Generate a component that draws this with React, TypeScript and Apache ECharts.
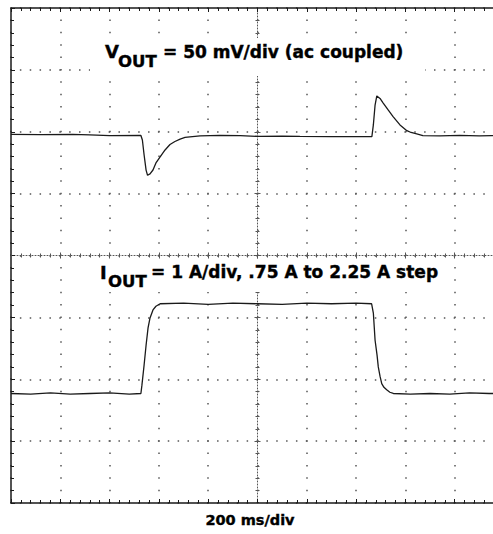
import React, { useEffect, useRef } from "react";
import * as echarts from "echarts";

// time axis (ms), 200 ms/div, 10 divisions
const timeMin = 0;
const timeMax = 2000;
const timeStep = 200;

// VOUT trace (ac coupled), mV, 50 mV/div
const voutTime = [0, 120, 250, 320, 400, 527, 533, 540, 548, 554, 564, 576, 588, 605, 625, 645, 665, 686, 706, 726, 767, 848, 930, 1010, 1100, 1172, 1300, 1400, 1464, 1470, 1477, 1484, 1497, 1510, 1530, 1550, 1578, 1606, 1623, 1646, 1671, 1740, 1820, 1900, 2000];
const voutMv = [-2.2, -2.4, -2.2, -2.6, -3.2, -3.0, -6.7, -18.8, -31, -35.2, -34, -30.9, -25.2, -20.4, -14.7, -10.3, -7.9, -5.9, -4.6, -4.1, -3.4, -3.0, -3.2, -3.8, -3.6, -3.8, -4.0, -3.9, -4.0, 5.5, 21.6, 28.9, 26.9, 23.2, 17.6, 12.2, 5.5, 0.85, -0.6, -1.8, -3.2, -3.4, -3.0, -3.3, -3.0];

// IOUT trace, A, 1 A/div, .75 A to 2.25 A step
const ioutTime = [0, 80, 160, 240, 320, 400, 480, 527, 531, 540, 548, 556, 564, 576, 588, 605, 700, 800, 900, 1000, 1100, 1200, 1300, 1400, 1463, 1470, 1477, 1485, 1490, 1497, 1504, 1513, 1524, 1537, 1551, 1620, 1700, 1780, 1860, 1940, 2000];
const ioutA = [0.77, 0.76, 0.78, 0.76, 0.77, 0.78, 0.76, 0.77, 0.9, 1.23, 1.55, 1.83, 1.99, 2.12, 2.18, 2.22, 2.23, 2.21, 2.23, 2.22, 2.21, 2.23, 2.22, 2.23, 2.22, 2.07, 1.63, 1.39, 1.2, 1.05, 0.93, 0.87, 0.83, 0.79, 0.77, 0.76, 0.77, 0.76, 0.78, 0.77, 0.77];

// vertical scales: 8 divisions each
const voutMin = -300, voutMax = 100, voutStep = 50;
const ioutMin = -1, ioutMax = 7, ioutStep = 1;

const voutTitleMain = "V";
const voutTitleSub = "OUT";
const voutTitleRest = "= 50 mV/div (ac coupled)";
const ioutTitleMain = "I";
const ioutTitleSub = "OUT";
const ioutTitleRest = "= 1 A/div, .75 A to 2.25 A step";
const xTitle = "200 ms/div";

const FONT = "DejaVu Sans";
const INK = "#1a1a1a";
const DOT = "#555";

export default function App() {
  const ref = useRef<HTMLDivElement>(null);
  useEffect(() => {
    if (!ref.current) return;
    const chart = echarts.init(ref.current, null, { renderer: "svg" });
    const gridL = 11, gridT = 8, gridW = 493, gridH = 495;
    const midX = gridW / 2;
    const midY = gridH / 2;
    const hidden = { show: false };
    const borderLine = { show: true, onZero: false, lineStyle: { color: INK, width: 1.5 } };
    const centerLine = { show: true, onZero: false, lineStyle: { color: DOT, width: 1, type: [1, 2] as any } };
    const noLine = { show: false, onZero: false };
    const xBase = { type: "value", min: timeMin, max: timeMax, interval: timeStep, axisLabel: hidden, splitLine: hidden };
    const yDiv = { type: "value", min: -4, max: 4, interval: 1, axisLabel: hidden, splitLine: hidden };
    const ticks = (inside: boolean, len: number, color = INK) => ({
      axisTick: { show: true, inside, length: len + 1, lineStyle: { color, width: 1 } },
      minorTick: { show: true, splitNumber: 5, length: len, lineStyle: { color, width: 1 } },
    });
    const txt = (text: string, x: number, y: number, size: number, align = "left") => ({
      type: "text",
      z: 60,
      x,
      y,
      style: {
        text,
        font: `bold ${size}px "${FONT}"`,
        fill: "#000",
        stroke: "#000",
        lineWidth: 0.4,
        align,
        verticalAlign: "middle",
      },
    });
    const option: any = {
      animation: false,
      backgroundColor: "#fff",
      grid: { left: gridL, top: gridT, width: gridW, height: gridH, containLabel: false },
      xAxis: [
        {
          ...xBase,
          position: "bottom",
          axisLine: borderLine,
          ...ticks(true, 3),
          splitLine: { show: true, lineStyle: { color: DOT, width: 1.5, type: [1.5, gridH / 40 - 1.5], dashOffset: 0.75 } },
        },
        { ...xBase, position: "top", axisLine: borderLine, ...ticks(true, 3) },
        { ...xBase, position: "bottom", offset: -midY, axisLine: centerLine, ...ticks(true, 2, DOT) },
        { ...xBase, position: "bottom", offset: -midY, axisLine: noLine, ...ticks(false, 2, DOT) },
      ],
      yAxis: [
        {
          type: "value",
          min: voutMin,
          max: voutMax,
          interval: voutStep,
          position: "left",
          axisLabel: hidden,
          axisLine: borderLine,
          ...ticks(true, 3),
          splitLine: { show: true, lineStyle: { color: DOT, width: 1.5, type: [1.5, gridW / 50 - 1.5], dashOffset: 0.75 } },
        },
        { type: "value", min: ioutMin, max: ioutMax, interval: ioutStep, show: false },
        { ...yDiv, position: "left", offset: -midX, axisLine: centerLine, ...ticks(true, 2, DOT) },
        { ...yDiv, position: "left", offset: -midX, axisLine: noLine, ...ticks(false, 2, DOT) },
      ],
      series: [
        {
          type: "line",
          name: "VOUT",
          xAxisIndex: 0,
          yAxisIndex: 0,
          data: voutTime.map((t, i) => [t, voutMv[i]]),
          showSymbol: false,
          lineStyle: { color: INK, width: 1.3 },
          z: 5,
        },
        {
          type: "line",
          name: "IOUT",
          xAxisIndex: 0,
          yAxisIndex: 1,
          data: ioutTime.map((t, i) => [t, ioutA[i]]),
          showSymbol: false,
          lineStyle: { color: INK, width: 1.3 },
          z: 5,
        },
      ],
      graphic: [
        { type: "rect", z: 50, shape: { x: 90, y: 38, width: 335, height: 38 }, style: { fill: "#fff" } },
        { type: "rect", z: 50, shape: { x: 88, y: 259, width: 358, height: 33 }, style: { fill: "#fff" } },
        txt(voutTitleMain, 105, 51, 18),
        txt(voutTitleSub, 118, 61, 16.5),
        txt(voutTitleRest, 163, 52, 17),
        txt(ioutTitleMain, 100, 272, 18),
        txt(ioutTitleSub, 108, 281, 16.5),
        txt(ioutTitleRest, 151, 272, 17),
        txt(xTitle, 250, 520, 14.5, "center"),
      ],
    };
    chart.setOption(option);
    return () => chart.dispose();
  }, []);
  return <div ref={ref} style={{ position: "fixed", left: 0, top: 0, width: 520, height: 534, background: "#fff" }} />;
}
